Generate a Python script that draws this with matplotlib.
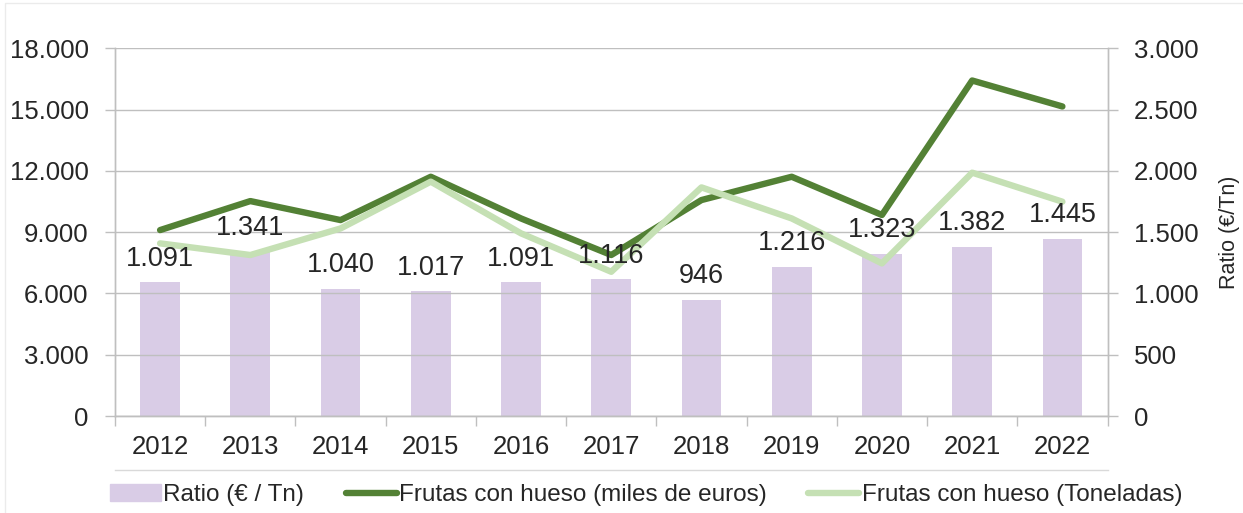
import numpy as np
import matplotlib.pyplot as plt
from matplotlib.lines import Line2D
from matplotlib.patches import Rectangle

years = ['2012', '2013', '2014', '2015', '2016', '2017', '2018', '2019', '2020', '2021', '2022']
ratio = [1091, 1341, 1040, 1017, 1091, 1116, 946, 1216, 1323, 1382, 1445]
miles_euros = [9100, 10520, 9590, 11710, 9670, 7880, 10570, 11710, 9840, 16420, 15150]
toneladas = [8450, 7880, 9180, 11470, 8940, 7060, 11190, 9670, 7470, 11910, 10490]

left_ticks = [0, 3000, 6000, 9000, 12000, 15000, 18000]
right_ticks = [0, 500, 1000, 1500, 2000, 2500, 3000]

plt.rcParams['font.family'] = ['Liberation Sans', 'DejaVu Sans']
txt = '#262626'
grid_c = '#BFBFBF'
dark_green = '#538135'
light_green = '#C5E0B4'
purple = '#D9CCE6'


def fmt(v):
    # thousands separator with a dot, spanish style
    return f"{v:,.0f}".replace(',', '.')


fig = plt.figure(figsize=(12.43, 5.13), dpi=100)
ax = fig.add_axes([0.0925, 0.189, 0.7985, 0.717])
ax2 = ax.twinx()

x = np.arange(len(years))
ax2.bar(x, ratio, width=0.44, color=purple, zorder=1)

# lines go on the left axis, which must sit above the bars
ax.set_zorder(ax2.get_zorder() + 1)
ax.patch.set_visible(False)
ax.plot(x, miles_euros, color=dark_green, lw=4.6, solid_capstyle='round', solid_joinstyle='round')
ax.plot(x, toneladas, color=light_green, lw=4.6, solid_capstyle='round', solid_joinstyle='round')

for xi, r in zip(x, ratio):
    ax.annotate(fmt(r), xy=(xi, r), xycoords=ax2.transData, xytext=(0, 17),
                textcoords='offset points', ha='center', va='center', fontsize=19.5, color=txt)

ax.set_xlim(-0.5, len(years) - 0.5)
ax.set_ylim(0, 18000)
ax2.set_ylim(0, 3000)
ax.set_yticks(left_ticks)
ax.set_yticklabels([fmt(v) for v in left_ticks])
ax2.set_yticks(right_ticks)
ax2.set_yticklabels([fmt(v) for v in right_ticks])

ax.set_xticks(x)
ax.set_xticklabels(years)
ax.set_xticks(np.arange(-0.5, len(years)), minor=True)
ax.tick_params(axis='x', which='major', length=0, pad=14, labelsize=18.5, labelcolor=txt)
ax.tick_params(axis='x', which='minor', length=7, color=grid_c, width=1)
ax.tick_params(axis='y', length=7, color=grid_c, width=1, pad=12, labelsize=18.5, labelcolor=txt)
ax2.tick_params(axis='y', length=7, color=grid_c, width=1, pad=12, labelsize=18.5, labelcolor=txt)

ax.grid(axis='y', color=grid_c, lw=1)
ax.set_axisbelow(True)
for a in (ax, ax2):
    a.spines['top'].set_visible(False)
    for s in ('left', 'right', 'bottom'):
        a.spines[s].set_color(grid_c)
        a.spines[s].set_linewidth(1)

ax2.set_ylabel('Ratio (€/Tn)', fontsize=15.5, color=txt, labelpad=15)

# thin line under the year labels
fig.add_artist(Line2D([0.0925, 0.891], [0.084, 0.084], color='#D9D9D9', lw=1))
# faint chart border
fig.add_artist(Rectangle((0.004, -0.01), 1.1, 1.004, fill=False, edgecolor='#EBEBEB', lw=1))

handles = [
    Rectangle((0, 0), 1, 1, color=purple),
    Line2D([], [], color=dark_green, lw=4.6, solid_capstyle='round'),
    Line2D([], [], color=light_green, lw=4.6, solid_capstyle='round'),
]
labels = ['Ratio (€ / Tn)', 'Frutas con hueso (miles de euros)', 'Frutas con hueso (Toneladas)']
fig.legend(handles, labels, loc='center left', bbox_to_anchor=(0.0885, 0.035), ncol=3,
           frameon=False, fontsize=17.5, handlelength=2.1, handletextpad=0.1,
           columnspacing=1.7, labelcolor=txt, borderaxespad=0, borderpad=0)

fig.savefig('out.png', dpi=100)
